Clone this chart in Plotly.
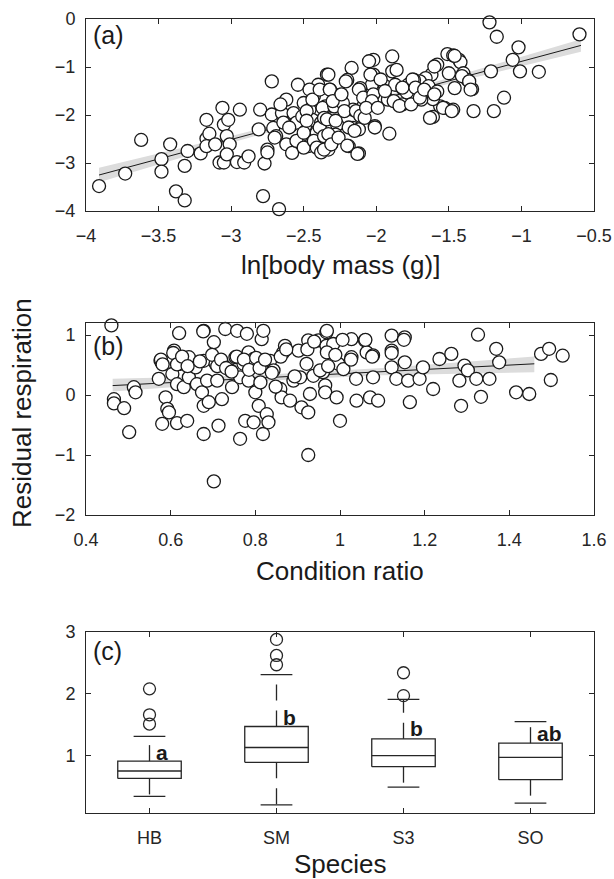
import plotly.graph_objects as go

# ---- panel (a): ln body mass vs residual respiration ----
mass_x = [-3.91, -3.73, -3.62, -3.48, -3.48, -3.42, -3.38, -3.32, -3.32, -3.30, -3.21, -3.17, -3.17, -3.15,
          -3.17, -3.11, -3.08, -3.05, -3.06, -3.05, -3.02, -3.03, -3.01, -3.03, -2.96, -2.91, -2.88, -2.94,
          -2.80, -2.81, -2.77, -2.75, -2.78, -2.72, -2.72, -2.71, -2.67, -2.69, -2.65, -2.62, -2.58, -2.59,
          -2.57, -2.54, -2.52, -2.50, -2.49, -2.47, -2.46, -2.44, -2.43, -2.41, -2.40, -2.39, -2.38, -2.35,
          -2.34, -2.33, -2.55, -2.64, -2.62, -2.66, -2.46, -2.51, -2.75, -2.70, -2.60, -2.55, -2.50, -2.50,
          -2.48, -2.48, -2.44, -2.43, -2.41, -2.39, -2.38, -2.37, -2.36,
          -1.51, -1.47, -1.43, -1.42, -1.58, -1.50, -1.40, -1.37, -1.34, -1.46, -1.62, -1.66, -1.70, -1.74,
          -1.78, -1.64, -1.58, -1.56, -1.61, -1.53, -1.47, -1.61, -1.69, -1.76, -1.82, -1.89, -1.89, -1.86,
          -2.02, -2.05, -2.02, -2.03, -2.17, -2.33, -2.20, -2.11, -1.94, -1.87, -1.82, -1.79, -1.97, -1.92,
          -2.04, -2.09, -2.11, -2.16, -2.01, -1.91, -2.16, -2.12, -2.19, -2.12, -2.31, -2.36, -2.39, -2.32,
          -2.25, -2.29, -2.23, -2.34, -2.27, -2.28, -2.36,
          -2.33, -2.32, -2.31, -2.30, -2.28, -2.26, -2.24, -2.22, -2.21, -2.20, -2.19, -2.15, -2.13, -2.14,
          -2.12, -2.11, -2.09, -2.08, -2.04, -2.02, -2.01, -2.03, -2.07, -1.99, -1.97, -1.94, -1.88, -1.84,
          -1.82, -1.76, -1.75, -1.73, -1.70, -1.67, -1.63, -1.60, -1.60, -1.54, -1.48, -1.46, -1.41, -1.36,
          -1.35, -1.33, -1.22, -1.17, -1.21, -1.19, -1.12, -1.06, -1.02, -1.01, -0.88, -0.60]
mass_y = [-3.48, -3.22, -2.52, -2.92, -3.18, -2.61, -3.59, -3.78, -3.06, -2.75, -2.80, -2.10, -2.49, -2.39,
          -2.65, -2.61, -2.99, -2.99, -1.85, -2.20, -2.10, -2.44, -2.61, -2.82, -2.98, -2.99, -2.86, -1.89,
          -1.89, -2.30, -3.01, -2.72, -3.69, -1.30, -1.99, -2.27, -3.96, -2.44, -1.96, -2.61, -2.79, -2.23,
          -1.96, -1.37, -2.51, -1.75, -2.23, -2.65, -1.89, -2.10, -1.61, -2.37, -1.37, -2.65, -2.16, -1.82,
          -1.16, -2.72, -2.16, -2.16, -1.68, -1.78, -1.47, -2.03, -2.78, -2.47, -2.26, -2.54, -2.37, -2.68,
          -1.92, -2.12, -1.68, -2.54, -2.68, -2.26, -2.78, -1.85, -2.06,
          -0.73, -0.76, -0.85, -0.90, -0.95, -1.13, -1.13, -1.27, -1.46, -1.44, -1.16, -1.23, -1.30, -1.27,
          -1.37, -1.40, -1.51, -1.82, -2.04, -1.85, -1.89, -1.67, -1.68, -1.65, -1.78, -0.78, -1.09, -1.06,
          -0.85, -0.88, -1.16, -1.37, -1.02, -1.16, -1.27, -1.44, -1.40, -1.37, -1.44, -1.53, -1.61, -1.68,
          -1.68, -1.82, -1.99, -1.89, -2.23, -2.39, -2.27, -2.30, -2.65, -2.80, -2.61, -2.72, -1.47, -1.47,
          -1.58, -1.82, -1.75, -2.09, -2.20, -2.41, -2.44,
          -2.40, -1.47, -2.61, -1.71, -2.12, -2.47, -1.57, -1.92, -1.30, -2.64, -2.26, -2.33, -2.81, -1.92,
          -1.47, -2.02, -1.64, -2.06, -1.16, -1.57, -2.26, -1.71, -1.85, -1.85, -1.26, -1.50, -1.71, -1.81,
          -1.43, -1.78, -1.26, -1.43, -1.64, -1.47, -2.06, -1.57, -0.99, -1.85, -1.92, -0.77, -1.19, -1.30,
          -1.47, -1.92, -0.07, -0.37, -1.09, -1.92, -1.64, -0.85, -0.59, -1.09, -1.10, -0.32]
fit_a_x = [-3.91, -3.0, -2.2, -1.5, -0.59]
fit_a_y = [-3.25, -2.51, -1.86, -1.29, -0.55]
fit_a_lo = [-3.40, -2.58, -1.90, -1.35, -0.68]
fit_a_hi = [-3.10, -2.44, -1.82, -1.23, -0.42]

# ---- panel (b): condition ratio vs residual respiration ----
cond_x = [0.46, 0.466, 0.466, 0.49, 0.502, 0.513, 0.517, 0.572, 0.576, 0.58, 0.588, 0.592, 0.596, 0.58,
          0.608, 0.604, 0.615, 0.615, 0.62, 0.623, 0.639, 0.631, 0.643, 0.643, 0.659, 0.662, 0.674, 0.678,
          0.678, 0.678, 0.678, 0.686, 0.69, 0.702, 0.702, 0.706, 0.71, 0.71, 0.713, 0.721, 0.725, 0.729,
          0.741, 0.745, 0.753, 0.757, 0.764, 0.764, 0.772, 0.776, 0.78, 0.784, 0.784, 0.796, 0.796, 0.8,
          0.808, 0.812, 0.815, 0.819, 0.818, 0.827, 0.831, 0.835, 0.843, 0.859, 0.862, 0.866, 0.87, 0.882,
          0.89, 0.902, 0.906, 0.909, 0.921, 0.925, 0.925, 0.925, 0.929, 0.937, 0.949, 0.96, 0.968, 0.968,
          0.969, 0.984, 0.969, 0.953, 0.965, 0.965, 0.992, 1.0, 0.996, 1.008, 1.027, 1.027, 1.038, 1.039,
          1.059, 1.063, 1.071, 1.078, 1.078, 1.09, 1.122, 1.122, 1.122, 1.133, 1.153, 1.153, 1.161, 1.165,
          1.188, 1.196, 1.22, 1.235, 1.263, 1.282, 1.286, 1.294, 1.302, 1.322, 1.326, 1.333, 1.353, 1.369,
          1.376, 1.416, 1.447, 1.475, 1.494, 1.498, 1.526,
          0.577, 0.581, 0.606, 0.615, 0.627, 0.64, 0.669, 0.677, 0.698, 0.71, 0.719, 0.731, 0.744, 0.756,
          0.773, 0.785, 0.802, 0.81, 0.823, 0.839, 0.848, 0.86, 0.873, 0.893, 0.923, 0.939, 0.972, 0.989,
          1.006, 1.026, 1.06, 1.076, 1.122, 1.151]
cond_y = [1.16, -0.07, -0.14, -0.22, -0.62, 0.13, 0.045, 0.27, 0.57, 0.52, -0.04, -0.23, -0.29, -0.48,
          0.74, 0.35, 0.18, -0.47, 1.03, 0.52, -0.43, 0.13, 0.63, 0.295, 0.46, 0.18, 0.045, 1.07,
          0.57, -0.18, -0.65, 0.24, -0.12, 0.88, -1.44, 0.52, 1.21, 0.24, -0.51, -0.07, 0.49, 1.10,
          0.41, 0.13, 0.63, 1.07, -0.73, 0.295, 0.52, -0.43, 1.02, 0.71, 0.24, -0.455, 0.60, 0.045,
          -0.18, 0.21, 0.93, 1.07, -0.65, -0.32, -0.455, 0.57, 0.41, 0.10, -0.04, 0.71, 0.82, -0.095,
          0.24, 0.74, 0.295, -0.205, 0.52, 0.91, -0.29, -1.0, 0.017, 0.32, 0.91, 0.38, 1.045, 0.82,
          1.07, 0.85, 0.71, 0.41, 0.16, 0.045, -0.04, -0.43, 0.52, 0.43, 0.93, 0.63, 0.27, -0.095,
          0.91, 0.71, -0.04, 0.295, 0.66, -0.095, 0.99, 0.74, 0.46, 0.27, 0.96, 0.545, 0.24, -0.12,
          0.27, 0.46, 0.10, 0.60, 0.685, 0.24, -0.18, 0.49, 0.41, 0.27, 1.005, -0.03, 0.27, 0.77,
          0.545, 0.045, 0.017, 0.685, 0.77, 0.25, 0.655,
          0.59, 0.51, 0.70, 0.51, 0.64, 0.48, 0.56, 1.06, 0.67, 0.48, 0.59, 0.45, 0.39, 0.64,
          0.59, 0.42, 0.62, 0.45, 0.59, 0.37, 0.14, 0.64, 0.76, 0.31, 0.76, 0.89, 0.48, 0.67,
          0.92, 0.59, 0.92, 0.64, 0.70, 0.92]
fit_b_x = [0.463, 0.8, 1.1, 1.459]
fit_b_y = [0.157, 0.28, 0.39, 0.52]
fit_b_lo = [0.06, 0.23, 0.33, 0.38]
fit_b_hi = [0.27, 0.33, 0.45, 0.64]

# ---- panel (c): box plot by species ----
species = ["HB", "SM", "S3", "SO"]
q1 = [0.63, 0.89, 0.82, 0.61]
med = [0.75, 1.13, 1.00, 0.97]
q3 = [0.91, 1.47, 1.27, 1.20]
whisk_lo = [0.34, 0.20, 0.49, 0.23]
whisk_hi = [1.31, 2.31, 1.91, 1.55]
outlier_x = [1, 1, 1, 2, 2, 2, 3, 3]
outlier_y = [2.08, 1.66, 1.51, 2.88, 2.62, 2.47, 2.34, 1.97]
letters = ["a", "b", "b", "ab"]
letter_y = [1.05, 1.62, 1.43, 1.35]

W, H = 614, 879
AX = "#262626"
FONT = "Liberation Sans, Arial, Helvetica, sans-serif"


def py(v):
    return 1 - v / H


x_dom = [86 / W, 594 / W]

fig = go.Figure()


def add_fit(xs, ys, lo, hi, xa, ya):
    fig.add_trace(go.Scatter(x=xs + xs[::-1], y=hi + lo[::-1], fill="toself", fillcolor="#dcdcdc",
                             line=dict(width=0), mode="lines", hoverinfo="skip", xaxis=xa, yaxis=ya))
    fig.add_trace(go.Scatter(x=xs, y=ys, mode="lines", line=dict(color="#1a1a1a", width=1),
                             xaxis=xa, yaxis=ya))


def add_points(xs, ys, xa, ya):
    fig.add_trace(go.Scatter(x=xs, y=ys, mode="markers", cliponaxis=False,
                             marker=dict(size=13, color="white", line=dict(color="#1a1a1a", width=1.3)),
                             xaxis=xa, yaxis=ya))


add_fit(fit_a_x, fit_a_y, fit_a_lo, fit_a_hi, "x", "y")
add_points(mass_x, mass_y, "x", "y")
add_fit(fit_b_x, fit_b_y, fit_b_lo, fit_b_hi, "x2", "y2")
add_points(cond_x, cond_y, "x2", "y2")

# boxes
bw, cw = 0.25, 0.125
for i in range(len(species)):
    c = i + 1
    line = dict(color="#262626", width=1.3)
    fig.add_trace(go.Scatter(x=[c - bw, c + bw, c + bw, c - bw, c - bw], y=[q1[i], q1[i], q3[i], q3[i], q1[i]],
                             mode="lines", line=line, xaxis="x3", yaxis="y3"))
    fig.add_trace(go.Scatter(x=[c - bw, c + bw], y=[med[i], med[i]], mode="lines", line=line,
                             xaxis="x3", yaxis="y3"))
    for a, b in [(q3[i], whisk_hi[i]), (q1[i], whisk_lo[i])]:
        fig.add_trace(go.Scatter(x=[c, c], y=[a, b], mode="lines",
                                 line=dict(color="#262626", width=1.3, dash="16px,10px"),
                                 xaxis="x3", yaxis="y3"))
    for v in [whisk_hi[i], whisk_lo[i]]:
        fig.add_trace(go.Scatter(x=[c - cw, c + cw], y=[v, v], mode="lines", line=line,
                                 xaxis="x3", yaxis="y3"))

fig.add_trace(go.Scatter(x=outlier_x, y=outlier_y, mode="markers", cliponaxis=False,
                         marker=dict(size=12, color="rgba(0,0,0,0)", line=dict(color="#262626", width=1.3)),
                         xaxis="x3", yaxis="y3"))

axis_common = dict(showline=True, linecolor=AX, linewidth=1, mirror="ticks", ticks="inside", ticklen=5,
                   tickcolor=AX, tickwidth=1, showgrid=False, zeroline=False, automargin=False,
                   tickfont=dict(family=FONT, size=18, color=AX))

fig.update_layout(
    width=W, height=H, margin=dict(l=0, r=0, t=0, b=0, autoexpand=False),
    paper_bgcolor="white", plot_bgcolor="white", showlegend=False,
    xaxis=dict(domain=x_dom, anchor="y", range=[-4, -0.5],
               tickvals=[-4, -3.5, -3, -2.5, -2, -1.5, -1, -0.5],
               ticktext=["\u22124", "\u22123.5", "\u22123", "\u22122.5", "\u22122", "\u22121.5", "\u22121",
                         "\u22120.5"],
               ticklabelstandoff=8, **axis_common),
    yaxis=dict(domain=[py(211), py(19)], anchor="x", range=[-4, 0],
               tickvals=[-4, -3, -2, -1, 0], ticktext=["\u22124", "\u22123", "\u22122", "\u22121", "0"],
               ticklabelstandoff=6, **axis_common),
    xaxis2=dict(domain=x_dom, anchor="y2", range=[0.4, 1.6],
                tickvals=[0.4, 0.6, 0.8, 1.0, 1.2, 1.4, 1.6],
                ticktext=["0.4", "0.6", "0.8", "1", "1.2", "1.4", "1.6"],
                ticklabelstandoff=8, **axis_common),
    yaxis2=dict(domain=[py(515), py(323)], anchor="x2", range=[-2, 1.2],
                tickvals=[-2, -1, 0, 1], ticktext=["\u22122", "\u22121", "0", "1"],
                ticklabelstandoff=6, **axis_common),
    xaxis3=dict(domain=x_dom, anchor="y3", range=[0.5, 4.5],
                tickvals=[1, 2, 3, 4], ticktext=species,
                ticklabelstandoff=8, **axis_common),
    yaxis3=dict(domain=[py(813), py(632)], anchor="x3", range=[0.07, 3],
                tickvals=[1, 2, 3], ticktext=["1", "2", "3"],
                ticklabelstandoff=6, **axis_common),
)

title_font = dict(family=FONT, size=26, color="#1a1a1a")
notes = [
    dict(text="ln[body mass (g)]", x=340 / W, y=py(265), textangle=0),
    dict(text="Condition ratio", x=340 / W, y=py(571), textangle=0),
    dict(text="Species", x=340 / W, y=py(864), textangle=0),
    dict(text="Residual respiration", x=22 / W, y=py(413), textangle=-90),
]
for n in notes:
    fig.add_annotation(xref="paper", yref="paper", xanchor="center", yanchor="middle",
                       showarrow=False, font=title_font, **n)

for lab, yc in [("(a)", 35), ("(b)", 346), ("(c)", 651)]:
    fig.add_annotation(text=lab, xref="paper", yref="paper", x=91 / W, y=py(yc), xanchor="left",
                       yanchor="middle", showarrow=False, font=dict(family=FONT, size=25, color="#1a1a1a"))

for i, t in enumerate(letters):
    fig.add_annotation(text="<b>%s</b>" % t, xref="x3", yref="y3", x=i + 1.035, y=letter_y[i],
                       xanchor="left", yanchor="middle", showarrow=False,
                       font=dict(family=FONT, size=21, color="#1a1a1a"))

# the page body has a default 8px margin; drop it so the figure sits at the window corner
fig.write_html("out.html", config={"displayModeBar": False},
               post_script="document.body.style.margin='0';")
